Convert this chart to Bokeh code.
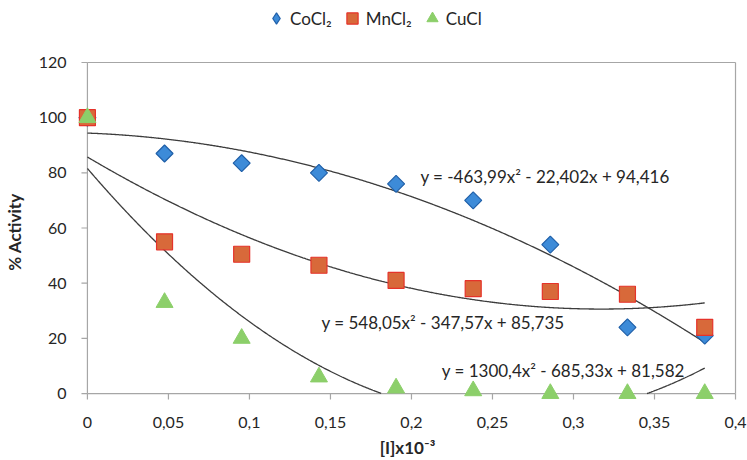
import numpy as np
from bokeh.plotting import figure
from bokeh.layouts import column
from bokeh.models import (Range1d, FixedTicker, Legend, LegendItem, Label,
                          CustomJSTickFormatter)
from bokeh.embed import file_html
from bokeh.resources import INLINE

# ---- data ----
conc = [0.0, 0.0476, 0.0952, 0.1429, 0.1905, 0.2381, 0.2857, 0.3333, 0.381]
cocl2 = [100, 87, 83.5, 80, 76, 70, 54, 24, 21]
mncl2 = [100, 55, 50.5, 46.5, 41, 38, 37, 36, 24]
cucl = [100, 33, 20, 6, 2, 1, 0, 0, 0]

# polynomial trend line coefficients (a, b, c) as printed on the chart
fit_cocl2 = [-463.99, -22.402, 94.416]
fit_mncl2 = [548.05, -347.57, 85.735]
fit_cucl = [1300.4, -685.33, 81.582]

eq_cocl2 = "y = -463,99x² - 22,402x + 94,416"
eq_mncl2 = "y = 548,05x² - 347,57x + 85,735"
eq_cucl = "y = 1300,4x² - 685,33x + 81,582"

x_ticks = [0, 0.05, 0.1, 0.15, 0.2, 0.25, 0.3, 0.35, 0.4]
y_ticks = [0, 20, 40, 60, 80, 100, 120]
X_MAX, Y_MAX = 0.4, 120

FONT = "Lato"
GREY = "#a6a6a6"
TXT = "#262626"

# geometry (pixels): where x=0 / x=0.4 / y=120 / y=0 sit on the page
AX_L, AX_R, AX_T, AX_B = 82, 735, 62, 395
PAD_LB, PAD_TR = 10, 2   # extra frame room so markers on the axes are not cut
TICK = 6
LEG_H = 36
W, H = 747, 460

kx = (AX_R - AX_L) / X_MAX
ky = (AX_B - AX_T) / Y_MAX

p = figure(width=W, height=H - LEG_H, output_backend="svg", toolbar_location=None,
           x_range=Range1d(-PAD_LB / kx, X_MAX + PAD_TR / kx),
           y_range=Range1d(-PAD_LB / ky, Y_MAX + PAD_TR / ky),
           min_border_left=AX_L - PAD_LB, min_border_right=W - AX_R - PAD_TR,
           min_border_top=AX_T - PAD_TR - LEG_H, min_border_bottom=H - AX_B - PAD_LB)
p.grid.visible = False
p.outline_line_color = None

for ax in (p.xaxis[0], p.yaxis[0]):
    ax.axis_line_color = None
    ax.major_tick_line_color = None
    ax.minor_tick_line_color = None
    ax.major_label_text_font = FONT
    ax.major_label_text_font_size = "16px"
    ax.major_label_text_color = TXT
    ax.axis_label_text_font = FONT
    ax.axis_label_text_font_size = "17px"
    ax.axis_label_text_font_style = "bold"
    ax.axis_label_text_color = TXT

p.xaxis.ticker = FixedTicker(ticks=x_ticks)
p.xaxis.formatter = CustomJSTickFormatter(code="""
    let s = tick.toFixed(2).replace(/0+$/, '').replace(/\\.$/, '');
    return s.replace('.', ',');
""")
p.yaxis.ticker = FixedTicker(ticks=y_ticks)
p.xaxis.axis_label = "[I]x10⁻³"
p.yaxis.axis_label = "% Activity"
p.xaxis.major_label_standoff = 7
p.xaxis.axis_label_standoff = 6
p.yaxis.major_label_standoff = 5
p.yaxis.axis_label_standoff = 11

# axis lines, ticks and the top/right frame, drawn at x=0 / y=0
seg = dict(line_color=GREY, line_width=1.2)
p.segment(x0=[0, 0, 0, X_MAX], y0=[0, 0, Y_MAX, 0],
          x1=[0, X_MAX, X_MAX, X_MAX], y1=[Y_MAX, 0, Y_MAX, Y_MAX], **seg)
p.segment(x0=[0] * len(y_ticks), y0=y_ticks,
          x1=[-TICK / kx] * len(y_ticks), y1=y_ticks, **seg)
p.segment(x0=x_ticks, y0=[0] * len(x_ticks),
          x1=x_ticks, y1=[-TICK / ky] * len(x_ticks), **seg)

# trend lines (hidden where they fall below the x axis)
xs = np.linspace(conc[0], conc[-1], 600)
for a, b, c in (fit_cocl2, fit_mncl2, fit_cucl):
    ys = a * xs ** 2 + b * xs + c
    ys = np.where(ys < 0, np.nan, ys)
    p.line(xs, ys, line_color="#3c3c3c", line_width=1.3)

CO_FILL, CO_LINE = "#3d8bd8", "#1f5fa8"
STY_CO = dict(marker="square", angle=np.pi / 4, fill_color=CO_FILL,
              line_color=CO_LINE, line_width=1.2)
STY_MN = dict(marker="square", fill_color="#d8693a", line_color="#e5332a", line_width=1.2)
STY_CU = dict(marker="triangle", fill_color="#8ccf6a", line_color="#8ccf6a", line_width=1)

p.scatter(conc, cocl2, size=12, **STY_CO)
p.scatter(conc, mncl2, size=16, **STY_MN)
p.scatter(conc, cucl, size=17, **STY_CU)

for txt, xv, yv in ((eq_cocl2, 0.2055, 78.6), (eq_mncl2, 0.1445, 25.9), (eq_cucl, 0.2187, 8.3)):
    p.add_layout(Label(x=xv, y=yv, text=txt, text_font=FONT, text_font_size="17px",
                       text_color=TXT, text_baseline="middle"))

# legend strip above the plot (its renderers use the same data, kept off-screen)
lg = figure(width=W, height=LEG_H, output_backend="svg", toolbar_location=None,
            x_range=Range1d(10, 11), y_range=Range1d(1000, 1001), min_border=0)
lg.axis.visible = False
lg.grid.visible = False
lg.outline_line_color = None
l_co = lg.scatter(conc, cocl2, marker="diamond", fill_color=CO_FILL,
                  line_color=CO_LINE, line_width=1.2)
l_mn = lg.scatter(conc, mncl2, **STY_MN)
l_cu = lg.scatter(conc, cucl, **STY_CU)
legend = Legend(items=[LegendItem(label="CoCl₂", renderers=[l_co]),
                       LegendItem(label="MnCl₂", renderers=[l_mn]),
                       LegendItem(label="CuCl", renderers=[l_cu])],
                orientation="horizontal", location=(185, 4),
                label_text_font=FONT, label_text_font_size="17px",
                label_text_color=TXT, border_line_color=None,
                background_fill_alpha=0, glyph_width=28, glyph_height=28,
                label_standoff=-6, spacing=6, padding=0, margin=0)
lg.add_layout(legend, "center")

open("out.html", "w").write(file_html(column(lg, p, spacing=0), INLINE))
